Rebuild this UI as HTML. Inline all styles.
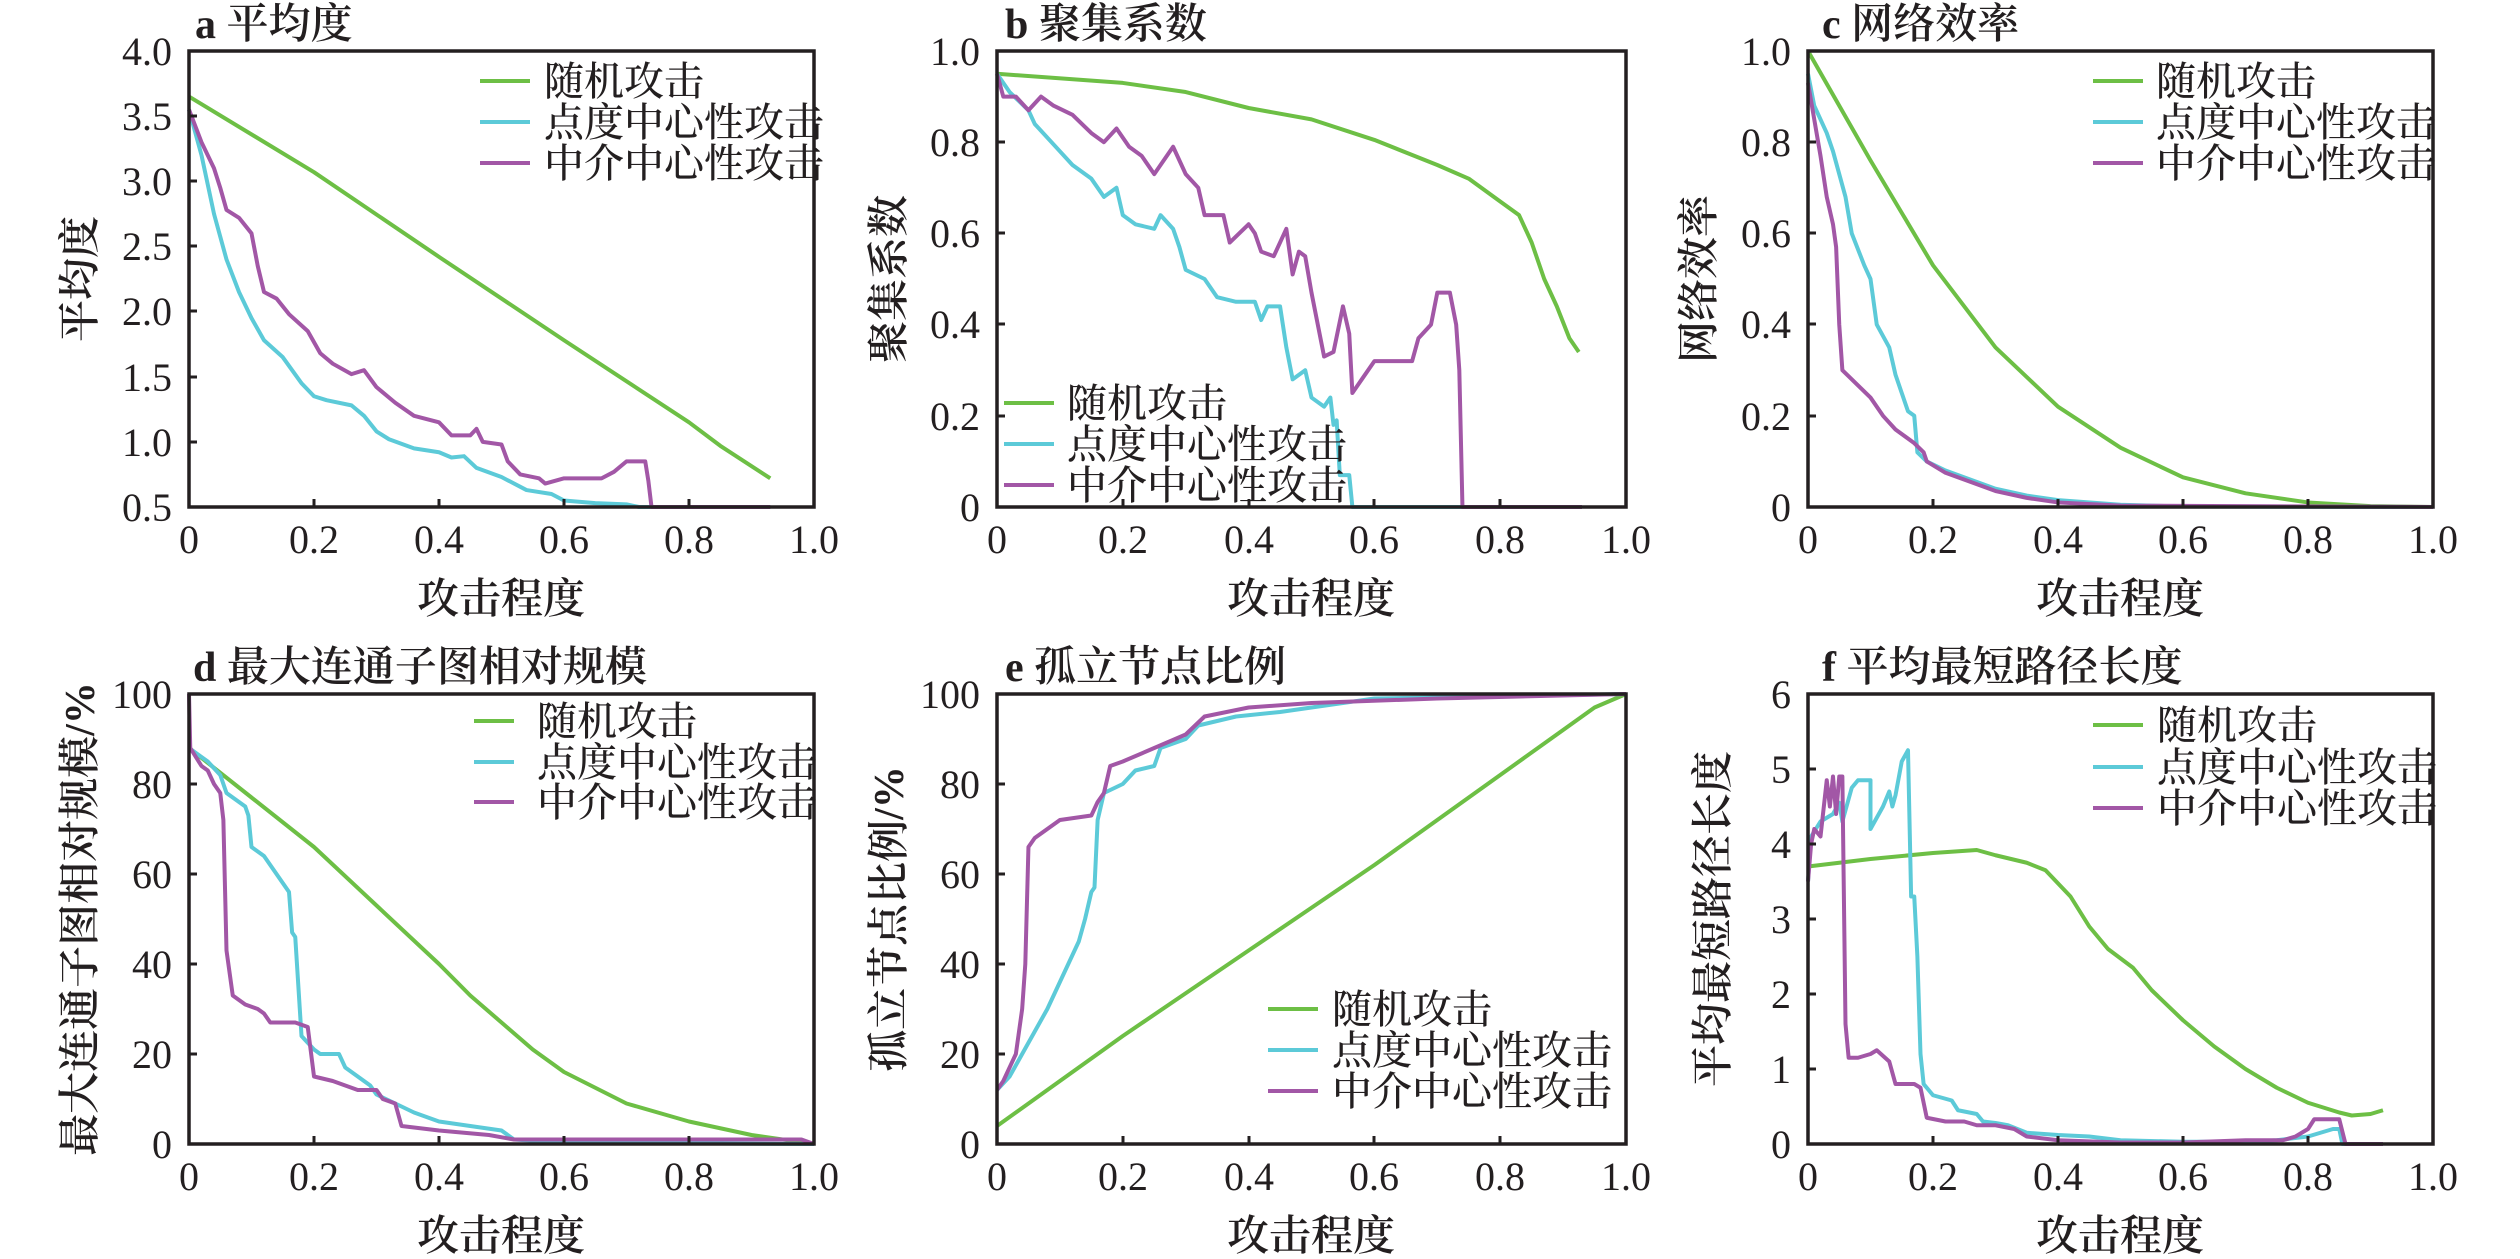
<!DOCTYPE html>
<html><head><meta charset="utf-8"><style>
html,body{margin:0;padding:0;background:#fff;}
svg{display:block}
text{font-family:"Liberation Serif","Noto Serif CJK SC",serif;fill:#231f20}
.t{font-size:40px}
.c{font-family:"Liberation Serif","Noto Serif CJK SC",serif;font-size:42px;font-weight:600}
.l{font-size:40px;font-family:"Liberation Serif","Noto Serif CJK SC",serif;font-weight:500}
polyline{fill:none;stroke-width:4;vector-effect:non-scaling-stroke;stroke-linejoin:round}
.g{stroke:#6dbf45}.b{stroke:#5ccad8}.p{stroke:#a257a6}
path.g,path.b,path.p{stroke-width:4}
.ax{fill:none;stroke:#231f20;stroke-width:3.5}
.tk{stroke:#231f20;stroke-width:3}
</style></head><body>
<svg width="2520" height="1259" viewBox="0 0 2520 1259" xmlns="http://www.w3.org/2000/svg">

<!-- ============ Panel a ============ -->
<svg x="189" y="51" width="625" height="456" viewBox="0 -4 1 3.5" preserveAspectRatio="none" overflow="visible">
<polyline class="g" points="0,-3.65 0.2,-3.07 0.4,-2.42 0.6,-1.78 0.8,-1.15 0.85,-0.97 0.93,-0.72"/>
<polyline class="b" points="0,-3.55 0.02,-3.2 0.04,-2.75 0.06,-2.4 0.08,-2.15 0.1,-1.95 0.12,-1.78 0.15,-1.65 0.18,-1.45 0.2,-1.35 0.22,-1.32 0.26,-1.28 0.28,-1.2 0.3,-1.08 0.32,-1.02 0.36,-0.95 0.4,-0.92 0.42,-0.88 0.44,-0.89 0.46,-0.8 0.5,-0.73 0.54,-0.63 0.58,-0.6 0.6,-0.55 0.65,-0.53 0.7,-0.52 0.72,-0.5 0.93,-0.5"/>
<polyline class="p" points="0,-3.55 0.02,-3.3 0.04,-3.1 0.05,-2.95 0.06,-2.78 0.08,-2.72 0.1,-2.6 0.11,-2.35 0.12,-2.15 0.14,-2.1 0.16,-1.98 0.19,-1.85 0.21,-1.68 0.23,-1.6 0.26,-1.52 0.28,-1.55 0.3,-1.42 0.33,-1.3 0.36,-1.2 0.4,-1.15 0.42,-1.05 0.45,-1.05 0.46,-1.1 0.47,-1.0 0.5,-0.98 0.51,-0.85 0.53,-0.75 0.56,-0.72 0.57,-0.68 0.6,-0.72 0.66,-0.72 0.68,-0.77 0.7,-0.85 0.73,-0.85 0.735,-0.7 0.74,-0.5 0.93,-0.5"/>
</svg>
<rect class="ax" x="189" y="51" width="625" height="456"/>
<g class="tk"><path d="M314 507v-8M439 507v-8M564 507v-8M689 507v-8M189 116h8M189 181h8M189 246h8M189 311h8M189 377h8M189 442h8"/></g>
<g class="t" text-anchor="end"><text x="172" y="65">4.0</text><text x="172" y="130">3.5</text><text x="172" y="195">3.0</text><text x="172" y="260">2.5</text><text x="172" y="325">2.0</text><text x="172" y="391">1.5</text><text x="172" y="456">1.0</text><text x="172" y="521">0.5</text></g>
<g class="t" text-anchor="middle"><text x="189" y="553">0</text><text x="314" y="553">0.2</text><text x="439" y="553">0.4</text><text x="564" y="553">0.6</text><text x="689" y="553">0.8</text><text x="814" y="553">1.0</text></g>
<text class="c" x="501" y="613" text-anchor="middle">攻击程度</text>
<text class="c" x="195" y="38">a 平均度</text>
<text class="c" transform="translate(94,279) rotate(-90)" text-anchor="middle">平均度</text>
<path class="g" d="M480 81h50"/><path class="b" d="M480 122h50"/><path class="p" d="M480 163h50"/>
<g class="l"><text x="544" y="95">随机攻击</text><text x="544" y="136">点度中心性攻击</text><text x="544" y="177">中介中心性攻击</text></g>

<!-- ============ Panel b ============ -->
<svg x="997" y="51" width="629" height="456" viewBox="0 -1 1 1" preserveAspectRatio="none" overflow="visible">
<polyline class="g" points="0,-0.95 0.2,-0.93 0.3,-0.91 0.4,-0.875 0.5,-0.85 0.6,-0.805 0.7,-0.75 0.75,-0.72 0.8,-0.67 0.83,-0.64 0.85,-0.58 0.87,-0.5 0.89,-0.44 0.91,-0.37 0.925,-0.34"/>
<polyline class="b" points="0,-0.95 0.02,-0.91 0.05,-0.87 0.06,-0.84 0.1,-0.78 0.12,-0.75 0.15,-0.72 0.17,-0.68 0.19,-0.7 0.2,-0.64 0.22,-0.62 0.25,-0.61 0.26,-0.64 0.28,-0.61 0.29,-0.57 0.3,-0.52 0.33,-0.5 0.35,-0.46 0.38,-0.45 0.41,-0.45 0.42,-0.41 0.43,-0.44 0.45,-0.44 0.46,-0.35 0.47,-0.28 0.49,-0.3 0.5,-0.24 0.52,-0.22 0.53,-0.24 0.535,-0.18 0.54,-0.19 0.545,-0.07 0.56,-0.07 0.565,0 0.93,0"/>
<polyline class="p" points="0,-0.95 0.01,-0.9 0.03,-0.9 0.05,-0.87 0.07,-0.9 0.09,-0.88 0.12,-0.86 0.15,-0.82 0.17,-0.8 0.19,-0.83 0.21,-0.79 0.23,-0.77 0.25,-0.73 0.27,-0.77 0.28,-0.79 0.3,-0.73 0.32,-0.7 0.33,-0.64 0.36,-0.64 0.37,-0.58 0.4,-0.62 0.41,-0.6 0.42,-0.56 0.44,-0.55 0.46,-0.61 0.47,-0.51 0.48,-0.56 0.49,-0.55 0.5,-0.47 0.51,-0.4 0.52,-0.33 0.535,-0.34 0.55,-0.44 0.56,-0.38 0.565,-0.25 0.58,-0.28 0.6,-0.32 0.66,-0.32 0.67,-0.37 0.69,-0.4 0.7,-0.47 0.72,-0.47 0.73,-0.4 0.735,-0.3 0.74,0 0.93,0"/>
</svg>
<rect class="ax" x="997" y="51" width="629" height="456"/>
<g class="tk"><path d="M1123 507v-8M1249 507v-8M1374 507v-8M1500 507v-8M997 142h8M997 233h8M997 324h8M997 416h8"/></g>
<g class="t" text-anchor="end"><text x="980" y="65">1.0</text><text x="980" y="156">0.8</text><text x="980" y="247">0.6</text><text x="980" y="338">0.4</text><text x="980" y="430">0.2</text><text x="980" y="521">0</text></g>
<g class="t" text-anchor="middle"><text x="997" y="553">0</text><text x="1123" y="553">0.2</text><text x="1249" y="553">0.4</text><text x="1374" y="553">0.6</text><text x="1500" y="553">0.8</text><text x="1626" y="553">1.0</text></g>
<text class="c" x="1311" y="613" text-anchor="middle">攻击程度</text>
<text class="c" x="1005" y="38">b 聚集系数</text>
<text class="c" transform="translate(903,279) rotate(-90)" text-anchor="middle">聚集系数</text>
<path class="g" d="M1004 403h50"/><path class="b" d="M1004 444h50"/><path class="p" d="M1004 485h50"/>
<g class="l"><text x="1067" y="417">随机攻击</text><text x="1067" y="458">点度中心性攻击</text><text x="1067" y="499">中介中心性攻击</text></g>

<!-- ============ Panel c ============ -->
<svg x="1808" y="51" width="625" height="456" viewBox="0 -1 1 1" preserveAspectRatio="none" overflow="visible">
<polyline class="g" points="0,-1 0.1,-0.76 0.2,-0.53 0.3,-0.35 0.4,-0.22 0.5,-0.13 0.6,-0.065 0.7,-0.03 0.8,-0.01 0.9,-0.002 1,0"/>
<polyline class="b" points="0,-0.95 0.01,-0.88 0.03,-0.82 0.04,-0.78 0.06,-0.68 0.07,-0.6 0.09,-0.53 0.1,-0.5 0.11,-0.4 0.13,-0.35 0.14,-0.29 0.15,-0.25 0.16,-0.21 0.17,-0.2 0.175,-0.12 0.19,-0.1 0.22,-0.08 0.26,-0.06 0.3,-0.04 0.35,-0.025 0.4,-0.015 0.5,-0.005 0.6,-0.001 1,0"/>
<polyline class="p" points="0,-0.93 0.01,-0.85 0.02,-0.77 0.03,-0.68 0.04,-0.62 0.045,-0.57 0.05,-0.4 0.055,-0.3 0.07,-0.28 0.1,-0.24 0.12,-0.2 0.14,-0.17 0.17,-0.14 0.185,-0.12 0.19,-0.1 0.22,-0.075 0.26,-0.055 0.3,-0.035 0.35,-0.02 0.4,-0.01 0.5,-0.003 1,0"/>
</svg>
<rect class="ax" x="1808" y="51" width="625" height="456"/>
<g class="tk"><path d="M1933 507v-8M2058 507v-8M2183 507v-8M2308 507v-8M1808 142h8M1808 233h8M1808 324h8M1808 416h8"/></g>
<g class="t" text-anchor="end"><text x="1791" y="65">1.0</text><text x="1791" y="156">0.8</text><text x="1791" y="247">0.6</text><text x="1791" y="338">0.4</text><text x="1791" y="430">0.2</text><text x="1791" y="521">0</text></g>
<g class="t" text-anchor="middle"><text x="1808" y="553">0</text><text x="1933" y="553">0.2</text><text x="2058" y="553">0.4</text><text x="2183" y="553">0.6</text><text x="2308" y="553">0.8</text><text x="2433" y="553">1.0</text></g>
<text class="c" x="2120" y="613" text-anchor="middle">攻击程度</text>
<text class="c" x="1822" y="38">c 网络效率</text>
<text class="c" transform="translate(1713,279) rotate(-90)" text-anchor="middle">网络效率</text>
<path class="g" d="M2093 81h50"/><path class="b" d="M2093 122h50"/><path class="p" d="M2093 163h50"/>
<g class="l"><text x="2156" y="95">随机攻击</text><text x="2156" y="136">点度中心性攻击</text><text x="2156" y="177">中介中心性攻击</text></g>

<!-- ============ Panel d ============ -->
<svg x="189" y="694" width="625" height="450" viewBox="0 -100 1 100" preserveAspectRatio="none" overflow="visible">
<polyline class="g" points="0,-88 0.1,-77 0.2,-66 0.3,-53 0.4,-40 0.45,-33 0.5,-27 0.55,-21 0.6,-16 0.7,-9 0.8,-5 0.9,-2 1,0"/>
<polyline class="b" points="0,-88 0.03,-85 0.05,-82 0.06,-78 0.09,-75 0.095,-73 0.1,-66 0.12,-64 0.14,-60 0.16,-56 0.165,-47 0.17,-46 0.18,-24 0.2,-21 0.21,-20 0.24,-20 0.25,-17 0.27,-15 0.29,-13 0.3,-11 0.33,-9 0.36,-7 0.4,-5 0.5,-3 0.52,-1 0.6,-0.3 1,0"/>
<polyline class="p" points="0,-100 0.002,-88 0.02,-84 0.03,-83 0.04,-80 0.05,-78 0.055,-72 0.06,-43 0.07,-33 0.08,-32 0.09,-31 0.11,-30 0.12,-29 0.13,-27 0.17,-27 0.19,-26 0.2,-15 0.23,-14 0.25,-13 0.27,-12 0.3,-12 0.31,-10 0.33,-9 0.34,-4 0.4,-3 0.48,-2 0.52,-1 0.98,-1 1,0"/>
</svg>
<rect class="ax" x="189" y="694" width="625" height="450"/>
<g class="tk"><path d="M314 1144v-8M439 1144v-8M564 1144v-8M689 1144v-8M189 784h8M189 874h8M189 964h8M189 1054h8"/></g>
<g class="t" text-anchor="end"><text x="172" y="708">100</text><text x="172" y="798">80</text><text x="172" y="888">60</text><text x="172" y="978">40</text><text x="172" y="1068">20</text><text x="172" y="1158">0</text></g>
<g class="t" text-anchor="middle"><text x="189" y="1190">0</text><text x="314" y="1190">0.2</text><text x="439" y="1190">0.4</text><text x="564" y="1190">0.6</text><text x="689" y="1190">0.8</text><text x="814" y="1190">1.0</text></g>
<text class="c" x="501" y="1250" text-anchor="middle">攻击程度</text>
<text class="c" x="193" y="681">d 最大连通子图相对规模</text>
<text class="c" transform="translate(94,919) rotate(-90)" text-anchor="middle">最大连通子图相对规模/%</text>
<path class="g" d="M474 721h40"/><path class="b" d="M474 762h40"/><path class="p" d="M474 802h40"/>
<g class="l"><text x="537" y="735">随机攻击</text><text x="537" y="776">点度中心性攻击</text><text x="537" y="816">中介中心性攻击</text></g>

<!-- ============ Panel e ============ -->
<svg x="997" y="694" width="629" height="450" viewBox="0 -100 1 100" preserveAspectRatio="none" overflow="visible">
<polyline class="g" points="0,-4 0.1,-14 0.2,-24 0.3,-33.5 0.4,-43 0.5,-52.5 0.6,-62 0.7,-72 0.8,-82 0.9,-92 0.95,-97 1,-100"/>
<polyline class="b" points="0,-12 0.02,-15 0.04,-20 0.06,-25 0.08,-30 0.1,-36 0.12,-42 0.13,-45 0.14,-50 0.15,-56 0.155,-57 0.16,-72 0.165,-75 0.17,-78 0.2,-80 0.22,-83 0.25,-84 0.26,-88 0.3,-90 0.32,-93 0.38,-95 0.45,-96 0.5,-97 0.6,-99 0.8,-99.5 1,-100"/>
<polyline class="p" points="0,-12 0.01,-14 0.03,-20 0.04,-30 0.045,-40 0.05,-66 0.06,-68 0.08,-70 0.1,-72 0.15,-73 0.16,-76 0.17,-78 0.18,-84 0.2,-85 0.25,-88 0.3,-91 0.33,-95 0.4,-97 0.5,-98 0.7,-99 1,-100"/>
</svg>
<rect class="ax" x="997" y="694" width="629" height="450"/>
<g class="tk"><path d="M1123 1144v-8M1249 1144v-8M1374 1144v-8M1500 1144v-8M997 784h8M997 874h8M997 964h8M997 1054h8"/></g>
<g class="t" text-anchor="end"><text x="980" y="708">100</text><text x="980" y="798">80</text><text x="980" y="888">60</text><text x="980" y="978">40</text><text x="980" y="1068">20</text><text x="980" y="1158">0</text></g>
<g class="t" text-anchor="middle"><text x="997" y="1190">0</text><text x="1123" y="1190">0.2</text><text x="1249" y="1190">0.4</text><text x="1374" y="1190">0.6</text><text x="1500" y="1190">0.8</text><text x="1626" y="1190">1.0</text></g>
<text class="c" x="1311" y="1250" text-anchor="middle">攻击程度</text>
<text class="c" x="1005" y="681">e 孤立节点比例</text>
<text class="c" transform="translate(903,919) rotate(-90)" text-anchor="middle">孤立节点比例/%</text>
<path class="g" d="M1268 1009h50"/><path class="b" d="M1268 1050h50"/><path class="p" d="M1268 1091h50"/>
<g class="l"><text x="1332" y="1023">随机攻击</text><text x="1332" y="1064">点度中心性攻击</text><text x="1332" y="1105">中介中心性攻击</text></g>

<!-- ============ Panel f ============ -->
<svg x="1808" y="694" width="625" height="450" viewBox="0 -6 1 6" preserveAspectRatio="none" overflow="visible">
<polyline class="g" points="0,-3.7 0.05,-3.75 0.1,-3.8 0.2,-3.88 0.27,-3.92 0.3,-3.85 0.35,-3.75 0.38,-3.65 0.42,-3.3 0.45,-2.9 0.48,-2.6 0.52,-2.35 0.55,-2.05 0.6,-1.65 0.65,-1.3 0.7,-1.0 0.75,-0.75 0.8,-0.55 0.85,-0.42 0.87,-0.38 0.9,-0.4 0.92,-0.45"/>
<polyline class="b" points="0,-3.5 0.005,-4.1 0.02,-4.3 0.04,-4.4 0.05,-4.55 0.055,-4.3 0.07,-4.75 0.08,-4.85 0.1,-4.85 0.1,-4.2 0.12,-4.5 0.13,-4.7 0.135,-4.5 0.14,-4.65 0.15,-5.1 0.16,-5.25 0.165,-3.3 0.17,-3.3 0.175,-2.5 0.18,-1.2 0.185,-0.8 0.2,-0.65 0.23,-0.58 0.24,-0.45 0.27,-0.4 0.28,-0.3 0.3,-0.28 0.32,-0.25 0.35,-0.15 0.4,-0.12 0.45,-0.1 0.5,-0.05 0.6,-0.03 0.7,-0.03 0.75,-0.05 0.8,-0.1 0.84,-0.2 0.85,-0.2 0.855,0 0.92,0"/>
<polyline class="p" points="0,-3.5 0.005,-4.0 0.01,-4.2 0.02,-4.1 0.03,-4.85 0.035,-4.5 0.04,-4.9 0.045,-4.4 0.05,-4.9 0.055,-4.9 0.06,-1.6 0.065,-1.15 0.08,-1.15 0.1,-1.2 0.11,-1.25 0.13,-1.1 0.14,-0.8 0.17,-0.8 0.18,-0.75 0.19,-0.35 0.22,-0.3 0.25,-0.3 0.27,-0.25 0.3,-0.25 0.33,-0.2 0.35,-0.1 0.4,-0.05 0.5,-0.02 0.6,-0.02 0.7,-0.05 0.76,-0.05 0.78,-0.1 0.8,-0.2 0.81,-0.33 0.85,-0.33 0.86,0 0.92,0"/>
</svg>
<rect class="ax" x="1808" y="694" width="625" height="450"/>
<g class="tk"><path d="M1933 1144v-8M2058 1144v-8M2183 1144v-8M2308 1144v-8M1808 769h8M1808 844h8M1808 919h8M1808 994h8M1808 1069h8"/></g>
<g class="t" text-anchor="end"><text x="1791" y="708">6</text><text x="1791" y="783">5</text><text x="1791" y="858">4</text><text x="1791" y="933">3</text><text x="1791" y="1008">2</text><text x="1791" y="1083">1</text><text x="1791" y="1158">0</text></g>
<g class="t" text-anchor="middle"><text x="1808" y="1190">0</text><text x="1933" y="1190">0.2</text><text x="2058" y="1190">0.4</text><text x="2183" y="1190">0.6</text><text x="2308" y="1190">0.8</text><text x="2433" y="1190">1.0</text></g>
<text class="c" x="2120" y="1250" text-anchor="middle">攻击程度</text>
<text class="c" x="1822" y="681">f 平均最短路径长度</text>
<text class="c" transform="translate(1727,919) rotate(-90)" text-anchor="middle">平均最短路径长度</text>
<path class="g" d="M2093 725h50"/><path class="b" d="M2093 767h50"/><path class="p" d="M2093 808h50"/>
<g class="l"><text x="2157" y="739">随机攻击</text><text x="2157" y="781">点度中心性攻击</text><text x="2157" y="822">中介中心性攻击</text></g>
</svg>
</body></html>
